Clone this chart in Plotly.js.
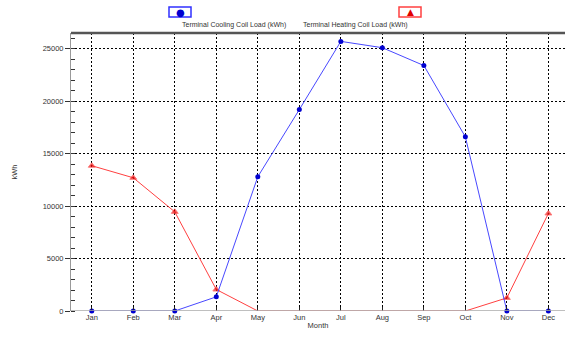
<!DOCTYPE html>
<html><head><meta charset="utf-8">
<script src="https://cdn.plot.ly/plotly-3.0.1.min.js"></script>
<style>html,body{margin:0;padding:0;background:#fff}#chart{width:565px;height:344px}</style>
</head><body><div id="chart"></div>
<script>
const months = ["Jan","Feb","Mar","Apr","May","Jun","Jul","Aug","Sep","Oct","Nov","Dec"];
const coolingLoad = [0, 0, 0, 1350, 12800, 19200, 25700, 25100, 23400, 16600, 0, 0];
const heatingLoad = [13850, 12700, 9450, 2050, 0, 0, 0, 0, 0, 0, 1250, 9300];
const yTicks = [0, 5000, 10000, 15000, 20000, 25000];
const coolingName = "Terminal Cooling Coil Load (kWh)";
const heatingName = "Terminal Heating Coil Load (kWh)";

const font = {family: "Liberation Sans, Arial, sans-serif", size: 7.5, color: "#333"};
const traces = [
  {x: months, y: heatingLoad, type: "scatter", mode: "lines+markers", name: heatingName,
   line: {color: "#ff4040", width: 1},
   marker: {symbol: "triangle-up", color: "#e00000", size: heatingLoad.map(v => v > 0 ? 6 : 0)},
   cliponaxis: false},
  {x: months, y: coolingLoad, type: "scatter", mode: "lines+markers", name: coolingName,
   line: {color: "#4848ff", width: 1},
   marker: {symbol: "circle", color: "#0000d0", size: 5},
   cliponaxis: false}
];
const px = x => (x - 71) / 494;
const py = y => (311 - y) / 278;
const symFont = "DejaVu Sans, sans-serif";
const layout = {
  width: 565, height: 344,
  margin: {l: 71, r: 0, t: 33, b: 33},
  paper_bgcolor: "#fff", plot_bgcolor: "#fff",
  showlegend: false,
  font: font,
  xaxis: {
    type: "category", range: [-0.5, 11.4],
    showgrid: true, gridcolor: "#000", griddash: "2px,2px", gridwidth: 1,
    showline: false,
    ticks: "inside", ticklen: 4, tickcolor: "#222",
    tickfont: font, zeroline: false,
    title: {text: "Month", font: font, standoff: 2}
  },
  yaxis: {
    range: [0, 26500], tickvals: yTicks, tickformat: "d",
    showgrid: true, gridcolor: "#000", griddash: "2px,2px", gridwidth: 1,
    showline: true, linecolor: "#999", linewidth: 1,
    ticks: "outside", ticklen: 5, tickcolor: "#333",
    minor: {dtick: 1000, ticks: "inside", ticklen: 4, tickcolor: "#333", showgrid: false},
    tickfont: font, zeroline: false,
    title: {text: "kWh", font: font, standoff: 24}
  },
  shapes: [
    {type: "line", xref: "paper", yref: "paper", x0: 0, x1: 1.02, y0: 1, y1: 1,
     line: {color: "#555", width: 2.5}},
    {type: "line", xref: "paper", yref: "y", x0: 0, x1: 1.02, y0: 0, y1: 0, layer: "above",
     line: {color: "#aaa", width: 1.5}},
    {type: "rect", xref: "paper", yref: "paper", x0: px(169), x1: px(191), y0: py(17), y1: py(7),
     line: {color: "#3030ff", width: 1.5}, fillcolor: "#fff"},
    {type: "rect", xref: "paper", yref: "paper", x0: px(399), x1: px(421), y0: py(17), y1: py(7),
     line: {color: "#ff4040", width: 1.5}, fillcolor: "#fff"}
  ],
  annotations: [
    {xref: "paper", yref: "paper", x: px(180), y: py(12), text: "●", showarrow: false,
     font: {family: symFont, size: 10, color: "#0000d0"}, xanchor: "center", yanchor: "middle"},
    {xref: "paper", yref: "paper", x: px(410), y: py(12), text: "▲", showarrow: false,
     font: {family: symFont, size: 9, color: "#e00000"}, xanchor: "center", yanchor: "middle"},
    {xref: "paper", yref: "paper", x: px(180), y: py(25), text: coolingName, showarrow: false,
     font: {family: font.family, size: 7, color: "#333"}, yanchor: "middle"},
    {xref: "paper", yref: "paper", x: px(410), y: py(25), text: heatingName, showarrow: false,
     font: {family: font.family, size: 7, color: "#333"}, yanchor: "middle"}
  ]
};
Plotly.newPlot("chart", traces, layout, {displayModeBar: false, staticPlot: true});
</script>
</body></html>
